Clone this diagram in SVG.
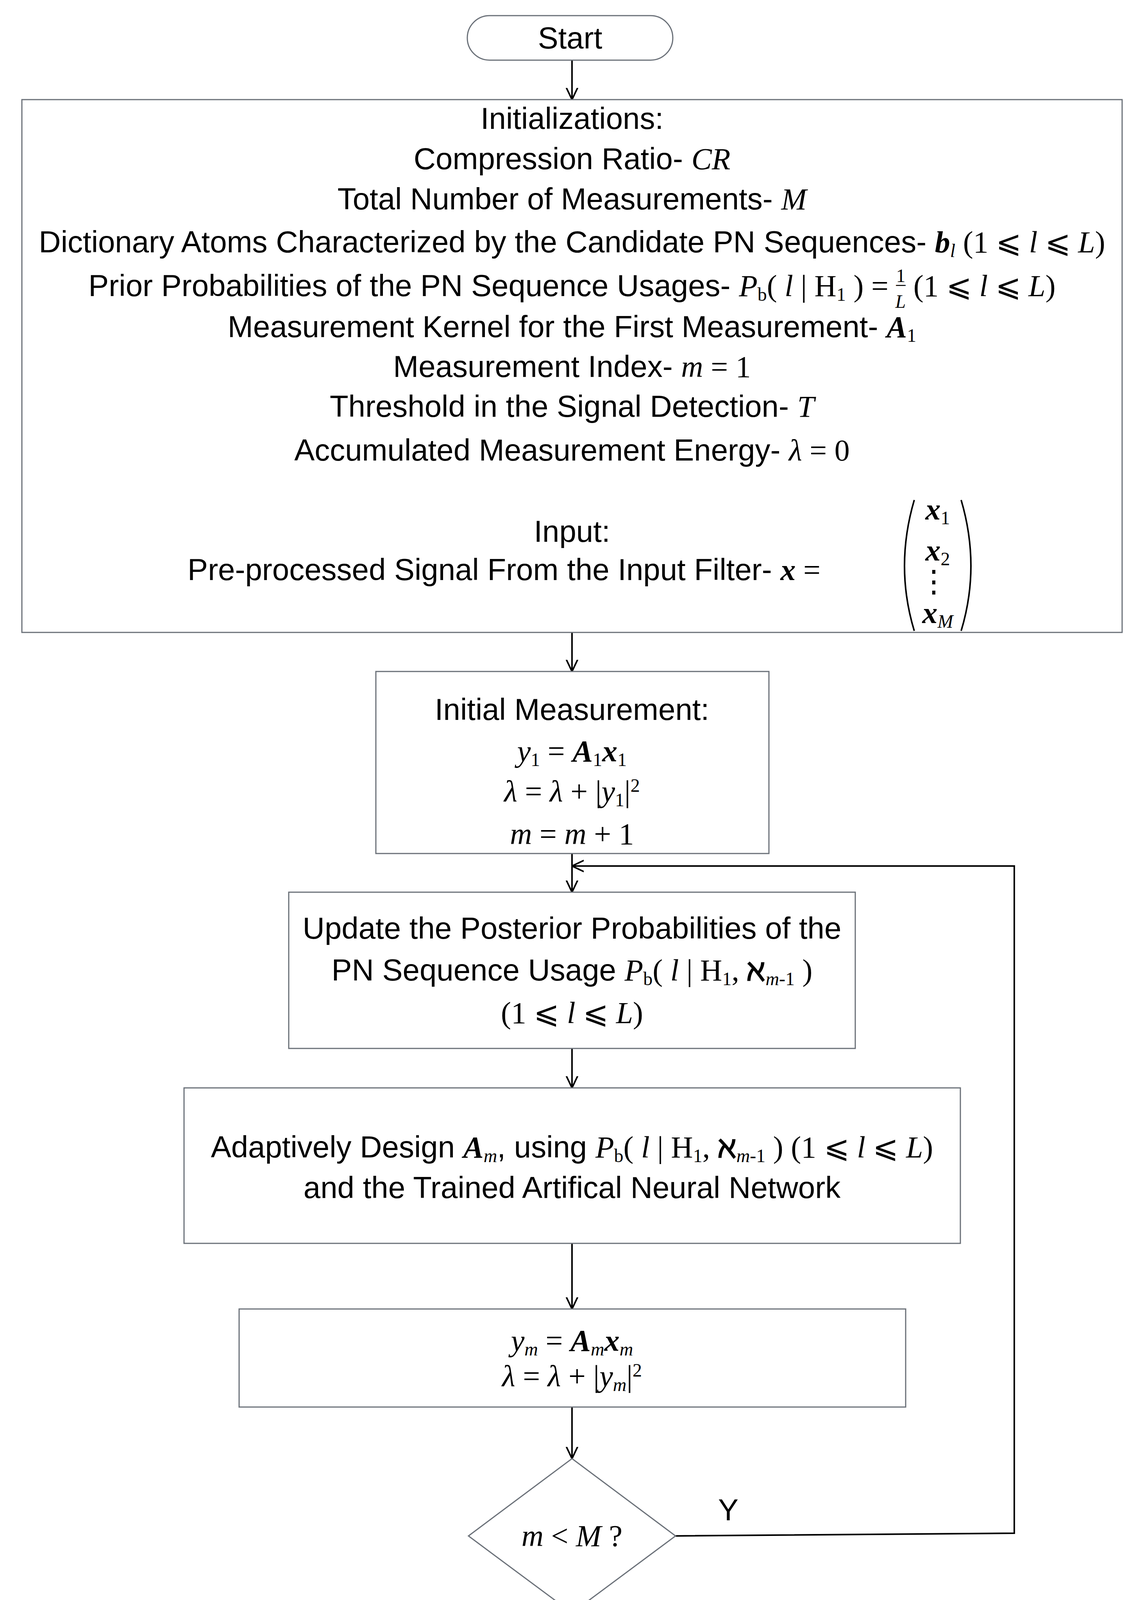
<svg xmlns="http://www.w3.org/2000/svg" width="2928" height="5280" viewBox="0 0 2928 5280">
<style>
.b{fill:#fff;stroke:#6a7078;stroke-width:3}
.t{font-family:"Liberation Sans",Arial,sans-serif;font-size:78px;fill:#000;text-anchor:middle}
.m{font-family:"Liberation Serif","Times New Roman",serif;font-style:italic}
.r{font-family:"Liberation Serif","Times New Roman",serif;font-style:normal}
.bd{font-weight:bold}
.c{fill:none;stroke:#000;stroke-width:4}
.c2{fill:none;stroke:#000;stroke-width:7}
</style>
<defs>
<marker id="a" viewBox="0 0 20 20" refX="19" refY="10" markerWidth="32" markerHeight="32" markerUnits="userSpaceOnUse" orient="auto"><path d="M0,1 L19,10 L0,19" fill="none" stroke="#000" stroke-width="2.5"/></marker>
<marker id="a2" viewBox="0 0 20 20" refX="19" refY="10" markerWidth="34" markerHeight="34" markerUnits="userSpaceOnUse" orient="auto"><path d="M0,1 L19,10 L0,19" fill="none" stroke="#000" stroke-width="3"/></marker>
</defs>
<g id="connectors">
<path class="c" d="M1464,154 V255" marker-end="url(#a)"/>
<path class="c" d="M1464,1619 V1719" marker-end="url(#a)"/>
<path class="c" d="M1464,2185 V2284" marker-end="url(#a)"/>
<path class="c" d="M1464,2684 V2785" marker-end="url(#a)"/>
<path class="c" d="M1464,3183 V3351" marker-end="url(#a)"/>
<path class="c" d="M1464,3602 V3734" marker-end="url(#a)"/>
<path class="c" d="M1729,3932 L2596,3925 V2217 H1464" marker-end="url(#a)"/>
<path class="c" d="M1464,4129 V4232" marker-end="url(#a)"/>
<path class="c" d="M1199,4431 H945 V4709" marker-end="url(#a)"/>
<path class="c" d="M1729,4431 H2036 V4709" marker-end="url(#a)"/>
<path class="c2" d="M945,4963 V5169 H1266" marker-end="url(#a2)"/>
<path class="c2" d="M2036,4963 V5169 H1796" marker-end="url(#a2)"/>
<text class="t" x="1864" y="3892">Y</text>
<text class="t" x="1397" y="4194">N</text>
<text class="t" x="1064" y="4392">Y</text>
<text class="t" x="1864" y="4392">N</text>
</g>
<g id="start"><rect class="b" x="1196" y="40" width="526" height="114" rx="57"/><text class="t" x="1459" y="124">Start</text></g>
<g id="init"><rect class="b" x="56" y="255" width="2816" height="1364"/>
<text class="t" x="1464" y="330">Initializations:</text>
<text class="t" x="1464" y="433">Compression Ratio- <tspan class="m">CR</tspan></text>
<text class="t" x="1464" y="536">Total Number of Measurements- <tspan class="m">M</tspan></text>
<text class="t" x="1464" y="646">Dictionary Atoms Characterized by the Candidate PN Sequences- <tspan class="m bd">b</tspan><tspan class="m" font-size="48" dy="12">l</tspan><tspan class="r" dy="-12"> (1 ⩽ </tspan><tspan class="m">l</tspan><tspan class="r"> ⩽ </tspan><tspan class="m">L</tspan><tspan class="r">)</tspan></text>
<text class="t" x="1464" y="758">Prior Probabilities of the PN Sequence Usages- <tspan class="m">P</tspan><tspan class="r" font-size="48" dy="12">b</tspan><tspan class="r" dy="-12">( </tspan><tspan class="m">l</tspan><tspan class="r"> | H</tspan><tspan class="r" font-size="48" dy="12">1</tspan><tspan class="r" dy="-12"> ) = </tspan><tspan class="r" font-size="48" dy="-36">1</tspan><tspan class="r" font-size="48" dx="-24" dy="20">–</tspan><tspan class="m" font-size="48" dx="-26" dy="46">L</tspan><tspan class="r" dy="-30">  (1 ⩽ </tspan><tspan class="m">l</tspan><tspan class="r"> ⩽ </tspan><tspan class="m">L</tspan><tspan class="r">)</tspan></text>
<text class="t" x="1464" y="863">Measurement Kernel for the First Measurement- <tspan class="m bd">A</tspan><tspan class="r" font-size="48" dy="12">1</tspan></text>
<text class="t" x="1464" y="965">Measurement Index- <tspan class="m">m</tspan><tspan class="r"> = 1</tspan></text>
<text class="t" x="1464" y="1067">Threshold in the Signal Detection- <tspan class="m">T</tspan></text>
<text class="t" x="1464" y="1179">Accumulated Measurement Energy-   <tspan class="m">λ</tspan><tspan class="r">  = 0</tspan></text>
<text class="t" x="1464" y="1387">Input:</text>
<text class="t" x="1290" y="1485">Pre-processed Signal From the Input Filter- <tspan class="m bd">x</tspan><tspan class="r"> =</tspan></text>
<path d="M2340,1280 Q2290,1450 2340,1615 M2460,1280 Q2510,1450 2460,1615" fill="none" stroke="#000" stroke-width="4"/>
<text class="t" x="2400" y="1330"><tspan class="m bd">x</tspan><tspan class="r" font-size="48" dy="12">1</tspan></text>
<text class="t" x="2400" y="1435"><tspan class="m bd">x</tspan><tspan class="r" font-size="48" dy="12">2</tspan></text>
<text class="t" x="2390" y="1515">⋮</text>
<text class="t" x="2400" y="1595"><tspan class="m bd">x</tspan><tspan class="m" font-size="48" dy="12">M</tspan></text>
</g>
<g id="initial"><rect class="b" x="962" y="1719" width="1006" height="466"/>
<text class="t" x="1464" y="1843">Initial Measurement:</text>
<text class="t" x="1464" y="1949"><tspan class="m">y</tspan><tspan class="r" font-size="48" dy="12">1</tspan><tspan class="r" dy="-12"> = </tspan><tspan class="m bd">A</tspan><tspan class="r" font-size="48" dy="12">1</tspan><tspan class="m bd" dy="-12">x</tspan><tspan class="r" font-size="48" dy="12">1</tspan></text>
<text class="t" x="1464" y="2052"><tspan class="m">λ</tspan><tspan class="r"> =  </tspan><tspan class="m">λ</tspan><tspan class="r"> + |</tspan><tspan class="m">y</tspan><tspan class="r" font-size="48" dy="12">1</tspan><tspan class="r" dy="-12">|</tspan><tspan class="r" font-size="48" dy="-25">2</tspan></text>
<text class="t" x="1464" y="2161"><tspan class="m">m</tspan><tspan class="r"> = </tspan><tspan class="m">m</tspan><tspan class="r"> + 1</tspan></text>
</g>
<g id="update"><rect class="b" x="739" y="2284" width="1450" height="400"/>
<text class="t" x="1464" y="2403">Update the Posterior Probabilities of the</text>
<text class="t" x="1464" y="2510">PN Sequence Usage <tspan class="m">P</tspan><tspan class="r" font-size="48" dy="12">b</tspan><tspan class="r" dy="-12">( </tspan><tspan class="m">l</tspan><tspan class="r"> | H</tspan><tspan class="r" font-size="48" dy="12">1</tspan><tspan class="r" dy="-12">, </tspan><tspan class="r bd">ℵ</tspan><tspan class="m" font-size="48" dy="12">m</tspan><tspan class="r" font-size="48">-1</tspan><tspan class="r" dy="-12"> )</tspan></text>
<text class="t" x="1464" y="2619"><tspan class="r">(1 ⩽ </tspan><tspan class="m">l</tspan><tspan class="r"> ⩽ </tspan><tspan class="m">L</tspan><tspan class="r">)</tspan></text>
</g>
<g id="adapt"><rect class="b" x="471" y="2785" width="1987" height="398"/>
<text class="t" x="1464" y="2963">Adaptively Design <tspan class="m bd">A</tspan><tspan class="m" font-size="48" dy="12">m</tspan><tspan dy="-12">, using </tspan><tspan class="m">P</tspan><tspan class="r" font-size="48" dy="12">b</tspan><tspan class="r" dy="-12">( </tspan><tspan class="m">l</tspan><tspan class="r"> | H</tspan><tspan class="r" font-size="48" dy="12">1</tspan><tspan class="r" dy="-12">, </tspan><tspan class="r bd">ℵ</tspan><tspan class="m" font-size="48" dy="12">m</tspan><tspan class="r" font-size="48">-1</tspan><tspan class="r" dy="-12"> ) (1 ⩽ </tspan><tspan class="m">l</tspan><tspan class="r"> ⩽ </tspan><tspan class="m">L</tspan><tspan class="r">)</tspan></text>
<text class="t" x="1464" y="3067">and the Trained Artifical Neural Network</text>
</g>
<g id="measure"><rect class="b" x="612" y="3351" width="1706" height="251"/>
<text class="t" x="1464" y="3458"><tspan class="m">y</tspan><tspan class="m" font-size="48" dy="12">m</tspan><tspan class="r" dy="-12"> = </tspan><tspan class="m bd">A</tspan><tspan class="m" font-size="48" dy="12">m</tspan><tspan class="m bd" dy="-12">x</tspan><tspan class="m" font-size="48" dy="12">m</tspan></text>
<text class="t" x="1464" y="3549"><tspan class="m">λ</tspan><tspan class="r"> =  </tspan><tspan class="m">λ</tspan><tspan class="r"> + |</tspan><tspan class="m">y</tspan><tspan class="m" font-size="48" dy="12">m</tspan><tspan class="r" dy="-12">|</tspan><tspan class="r" font-size="48" dy="-25">2</tspan></text>
</g>
<g id="d1"><path class="b" d="M1464,3734 L1729,3932 L1464,4129 L1199,3932 Z"/>
<text class="t" x="1464" y="3958"><tspan class="m">m</tspan><tspan class="r"> &lt; </tspan><tspan class="m">M</tspan><tspan class="r"> ?</tspan></text></g>
<g id="d2"><path class="b" d="M1464,4232 L1729,4431 L1464,4629 L1199,4431 Z"/>
<text class="t" x="1464" y="4457"><tspan class="m">λ</tspan><tspan class="r">  &lt; </tspan><tspan class="m">T</tspan><tspan class="r"> ?</tspan></text></g>
<g id="absent"><rect class="b" x="678" y="4709" width="534" height="254"/>
<text class="t" x="945" y="4812">Output :</text><text class="t" x="945" y="4914">Signal Absent</text></g>
<g id="present"><rect class="b" x="1770" y="4709" width="532" height="254"/>
<text class="t" x="2036" y="4812">Output :</text><text class="t" x="2036" y="4914">Signal Present</text></g>
<g id="end"><rect class="b" x="1266" y="5115" width="530" height="115" rx="57"/><text class="t" x="1531" y="5199">End</text></g>
</svg>
